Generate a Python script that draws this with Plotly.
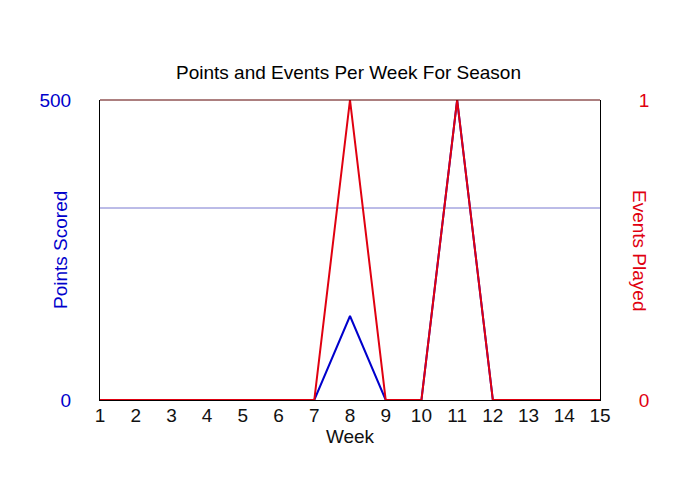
import plotly.graph_objects as go

# dados da temporada
weeks = list(range(1, 16))
points_scored = [0, 0, 0, 0, 0, 0, 0, 140, 0, 0, 500, 0, 0, 0, 0]
events_played = [0, 0, 0, 0, 0, 0, 0, 1, 0, 0, 1, 0, 0, 0, 0]
points_ref = 320  # linha horizontal azul
points_ticks = [0, 500]
events_ticks = [0, 1]

BLUE = "#0000cc"
RED = "#e00010"
FONT = "Arial, Liberation Sans, sans-serif"
OFF = 8  # margem padrão do <body> na página

fig = go.Figure()

fig.add_trace(go.Scatter(
    x=weeks, y=points_scored, mode="lines",
    line=dict(color=BLUE, width=2), name="Points Scored",
))
fig.add_trace(go.Scatter(
    x=[weeks[0], weeks[-1]], y=[points_ref, points_ref], mode="lines",
    line=dict(color="#7878d0", width=1), name="ref",
))
fig.add_trace(go.Scatter(
    x=weeks, y=events_played, mode="lines", yaxis="y2",
    line=dict(color=RED, width=2), name="Events Played",
))

fig.update_layout(
    width=700, height=500,
    paper_bgcolor="white", plot_bgcolor="white",
    showlegend=False,
    font=dict(family=FONT, color="black"),
    margin=dict(l=100 - OFF, r=100 + OFF, t=100 - OFF, b=100 + OFF, autoexpand=False),
    title=dict(text="Points and Events Per Week For Season",
               x=0.497, xanchor="center", y=1 - (72 - OFF) / 500,
               yanchor="middle", xref="paper", yref="container",
               font=dict(size=19, color="black")),
    xaxis=dict(range=[weeks[0], weeks[-1]], tickvals=weeks,
               showgrid=False, zeroline=False, showline=True,
               linecolor="black", linewidth=1, ticks="",
               tickfont=dict(size=19, color="#111"), ticklabelstandoff=-2,
               title=dict(text="Week", font=dict(size=19, color="#111"), standoff=0)),
    yaxis=dict(range=[0, 500], tickvals=points_ticks,
               showgrid=False, zeroline=False, showline=True,
               linecolor="black", linewidth=1, ticks="",
               tickfont=dict(size=19, color=BLUE), ticklabelstandoff=24),
    yaxis2=dict(range=[0, 1], tickvals=events_ticks, overlaying="y", side="right",
                showgrid=False, zeroline=False, showline=True,
                linecolor="black", linewidth=1, ticks="",
                tickfont=dict(size=19, color=RED), ticklabelstandoff=34),
    annotations=[
        dict(text="Points Scored", x=-40 / 500, xref="paper", xanchor="center",
             y=0.5, yref="paper", showarrow=False, textangle=-90,
             font=dict(size=19, color=BLUE)),
        dict(text="Events Played", x=1 + 40 / 500, xref="paper", xanchor="center",
             y=0.5, yref="paper", showarrow=False, textangle=90,
             font=dict(size=19, color=RED)),
    ],
    shapes=[dict(type="line", xref="paper", yref="paper", x0=0, x1=1, y0=1, y1=1,
                 line=dict(color="#5a0000", width=1))],
)

fig.write_html("out.html")
